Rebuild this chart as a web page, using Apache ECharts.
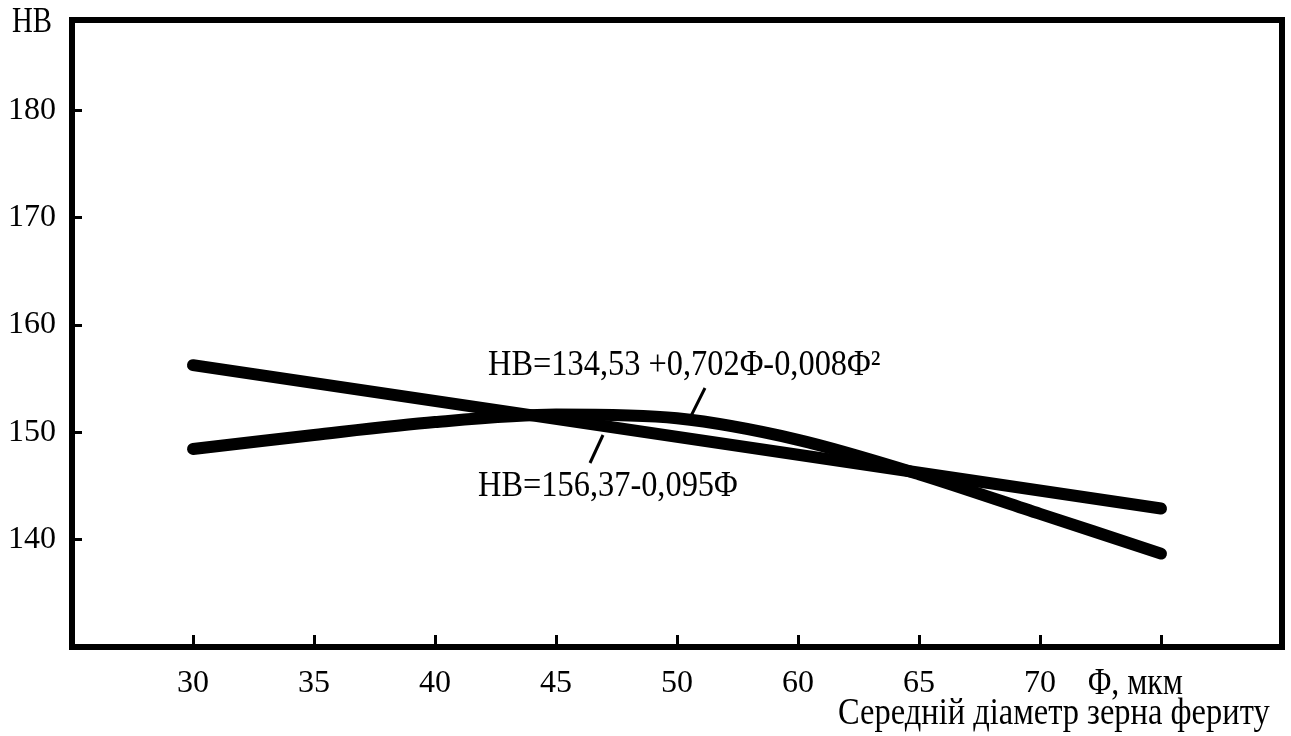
<!DOCTYPE html>
<html>
<head>
<meta charset="utf-8">
<script src="https://cdn.jsdelivr.net/npm/echarts@6/dist/echarts.min.js"></script>
<style>
html,body{margin:0;padding:0;background:#fff;}
#chart{width:1291px;height:736px;}
</style>
</head>
<body>
<div id="chart"></div>
<script>
// Categories along the x axis (first and last are the empty plot edges)
var xCategories = ['', '30', '35', '40', '45', '50', '60', '65', '70', '', ''];
// Quadratic curve values HB = 134,53 + 0,702Φ - 0,008Φ²
var quadValues = [null, 148.45, 149.75, 150.95, 151.65, 151.3, 149.3, 146.1, 142.4, 138.7, null];
// Linear fit HB = 156,37 - 0,095Φ
var linValues = [null, 156.25, null, null, null, null, null, null, null, 142.9, null];
// Y tick labels
var yTickLabels = [140, 150, 160, 170, 180];
// Texts
var yAxisTitle = 'НВ';
var xUnitTitle = 'Φ, мкм';
var xAxisTitle = 'Середній діаметр зерна фериту';
var quadLabel = 'НВ=134,53 +0,702Φ-0,008Φ²';
var linLabel = 'НВ=156,37-0,095Φ';

var FONT = '"Liberation Serif", "Times New Roman", serif';
var chart = echarts.init(document.getElementById('chart'));

function lineSeries(name, data) {
  return {
    name: name,
    type: 'line',
    data: data,
    smooth: 0.3,
    connectNulls: true,
    showSymbol: false,
    symbol: 'none',
    silent: true,
    animation: false,
    lineStyle: { color: '#000', width: 12, cap: 'round', join: 'round' }
  };
}

var option = {
  animation: false,
  backgroundColor: '#fff',
  grid: {
    left: 72, right: 9, top: 20, bottom: 89,
    show: true, borderColor: '#000', borderWidth: 6, backgroundColor: 'transparent'
  },
  xAxis: {
    type: 'category',
    data: xCategories,
    boundaryGap: false,
    axisLine: { lineStyle: { color: '#000', width: 6 } },
    axisTick: { show: true, inside: true, length: 12, interval: 0, lineStyle: { color: '#000', width: 3 } },
    axisLabel: { interval: 0, margin: 21, color: '#000', fontFamily: FONT, fontSize: 32 },
    splitLine: { show: false }
  },
  yAxis: {
    type: 'value',
    min: 130,
    max: 188.4,
    interval: 10,
    axisLine: { show: true, lineStyle: { color: '#000', width: 6 } },
    axisTick: { show: true, inside: true, length: 10, lineStyle: { color: '#000', width: 3 } },
    axisLabel: {
      margin: 16, color: '#000', fontFamily: FONT, fontSize: 32,
      showMinLabel: true, showMaxLabel: true,
      formatter: function (v) { return yTickLabels.indexOf(Math.round(v * 100) / 100) >= 0 ? String(v) : ''; }
    },
    splitLine: { show: false }
  },
  series: [lineSeries('quad', quadValues), lineSeries('lin', linValues)],
  graphic: [
    { type: 'text', x: 12, y: 23, scaleX: 0.8, silent: true,
      style: { text: yAxisTitle, font: '36px ' + FONT, fill: '#000', align: 'left', verticalAlign: 'middle' } },
    { type: 'text', x: 1088, y: 684, scaleX: 0.86, silent: true,
      style: { text: xUnitTitle, font: '37px ' + FONT, fill: '#000', align: 'left', verticalAlign: 'middle' } },
    { type: 'text', x: 838, y: 714, scaleX: 0.855, silent: true,
      style: { text: xAxisTitle, font: '38px ' + FONT, fill: '#000', align: 'left', verticalAlign: 'middle' } },
    { type: 'text', x: 488, y: 366, scaleX: 0.9, silent: true,
      style: { text: quadLabel, font: '36px ' + FONT, fill: '#000', align: 'left', verticalAlign: 'middle' } },
    { type: 'text', x: 478, y: 487, scaleX: 0.9, silent: true,
      style: { text: linLabel, font: '36px ' + FONT, fill: '#000', align: 'left', verticalAlign: 'middle' } },
    { type: 'line', silent: true, shape: { x1: 705, y1: 388, x2: 690, y2: 418 }, style: { stroke: '#000', lineWidth: 3 } },
    { type: 'line', silent: true, shape: { x1: 603, y1: 435, x2: 590, y2: 463 }, style: { stroke: '#000', lineWidth: 3 } }
  ]
};
chart.setOption(option);
</script>
</body>
</html>
